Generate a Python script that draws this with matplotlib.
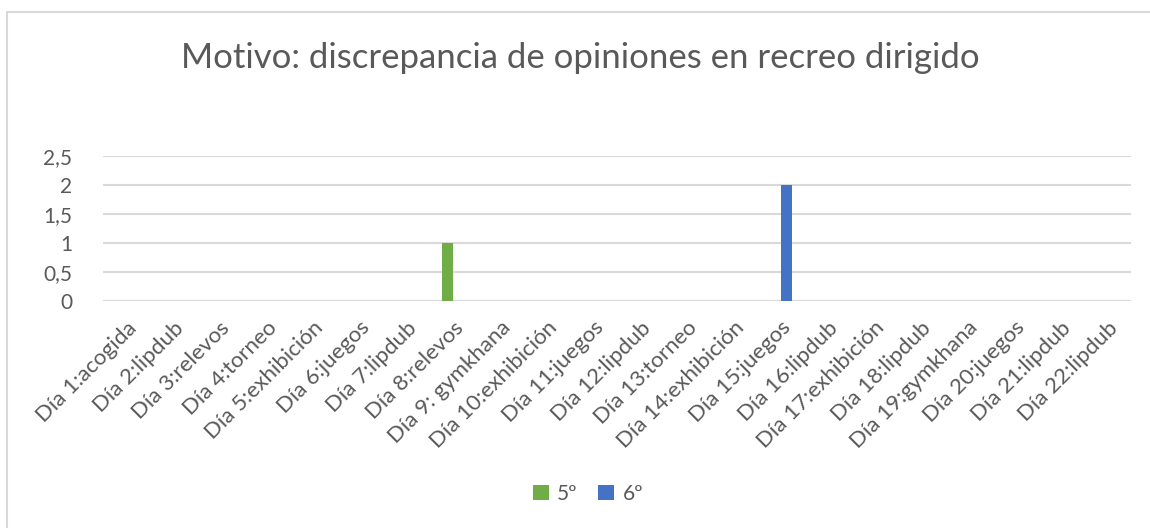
import matplotlib.pyplot as plt
from matplotlib.patches import Rectangle
import numpy as np

dias = ["Día 1:acogida", "Día 2:lipdub", "Día 3:relevos", "Día 4:torneo",
        "Día 5:exhibición", "Día 6:juegos", "Día 7:lipdub", "Día 8:relevos",
        "Día 9: gymkhana", "Día 10:exhibición", "Día 11:juegos", "Día 12:lipdub",
        "Día 13:torneo", "Día 14:exhibición", "Día 15:juegos", "Día 16:lipdub",
        "Día 17:exhibición", "Día 18:lipdub", "Día 19:gymkhana", "Día 20:juegos",
        "Día 21:lipdub", "Día 22:lipdub"]
quinto = [0, 0, 0, 0, 0, 0, 0, 1, 0, 0, 0, 0, 0, 0, 0, 0, 0, 0, 0, 0, 0, 0]
sexto = [0, 0, 0, 0, 0, 0, 0, 0, 0, 0, 0, 0, 0, 0, 2, 0, 0, 0, 0, 0, 0, 0]
yticks = [0, 0.5, 1, 1.5, 2, 2.5]
ytick_labels = ["0", "0,5", "1", "1,5", "2", "2,5"]

plt.rcParams['font.family'] = ['Lato', 'DejaVu Sans']
gris = '#595959'

W, H = 1150, 528
fig = plt.figure(figsize=(W / 100, H / 100), dpi=100)

# chart frame (only left and top edges fall inside the image)
fig.patches.append(Rectangle((7 / W, -0.1), 1.2, (528 - 12) / H + 0.1,
                             transform=fig.transFigure, fill=False,
                             edgecolor='#D9D9D9', linewidth=1.5))

ax = fig.add_axes([103 / W, 1 - 301 / H, (1131 - 103) / W, (301 - 155.7) / H])

x = np.arange(len(dias))
w = 0.235
ax.bar(x - w / 2, quinto, w, color='#70AD47', label='5º', zorder=3)
ax.bar(x + w / 2, sexto, w, color='#4472C4', label='6º', zorder=3)

ax.set_xlim(-0.5, len(dias) - 0.5)
ax.set_ylim(0, 2.5)
ax.set_yticks(yticks)
ax.set_yticklabels(ytick_labels)
ax.yaxis.grid(True, color='#D9D9D9', linewidth=1.5, zorder=0)
ax.set_axisbelow(True)
for s in ax.spines.values():
    s.set_visible(False)
ax.axhline(0, color='#D9D9D9', linewidth=1.5, zorder=1)

ax.tick_params(axis='y', length=0, pad=22, labelsize=15, labelcolor=gris)
ax.set_xticks(x)
ax.set_xticklabels(dias, rotation=45, ha='right', rotation_mode='anchor',
                   fontsize=16, color=gris)
ax.tick_params(axis='x', length=0, pad=12)

fig.text(0.505, 1 - 58 / H, "Motivo: discrepancia de opiniones en recreo dirigido",
         ha='center', va='center', fontsize=25, color=gris)

fig.legend(loc='center', bbox_to_anchor=(588 / W, 1 - 494 / H), ncol=2,
           frameon=False, fontsize=15, labelcolor=gris,
           handlelength=0.75, handleheight=0.75, handletextpad=0.4,
           columnspacing=1.0)

fig.savefig('out.png', dpi=100)
